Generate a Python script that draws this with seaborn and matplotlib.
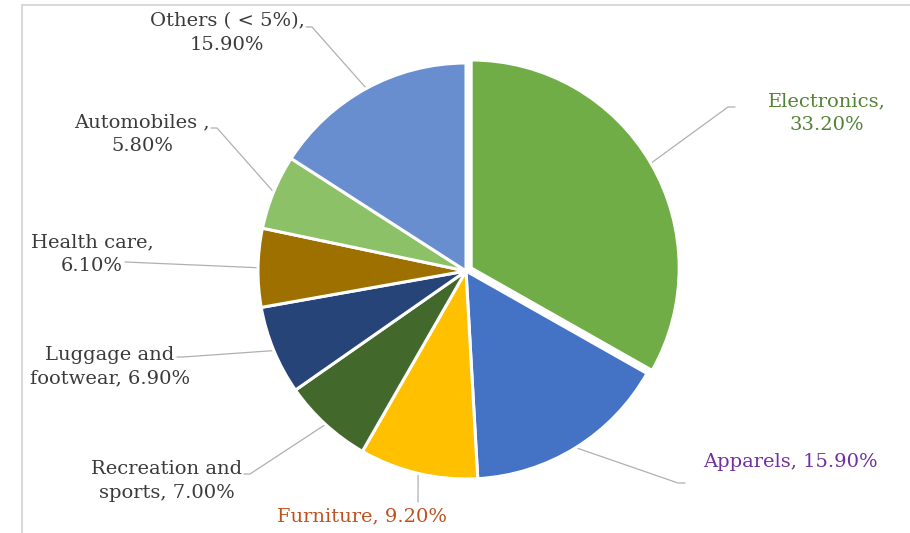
import numpy as np
import matplotlib
matplotlib.use('Agg')
import matplotlib.pyplot as plt
import seaborn as sns

# data
categories = ['Electronics', 'Apparels', 'Furniture', 'Recreation and sports',
              'Luggage and footwear', 'Health care', 'Automobiles', 'Others ( < 5%)']
shares = [33.2, 15.9, 9.2, 7.0, 6.9, 6.1, 5.8, 15.9]

# label text as it appears on the chart
label_text = ['Electronics,\n{:.2f}%', 'Apparels, {:.2f}%', 'Furniture, {:.2f}%',
              'Recreation and\nsports, {:.2f}%', 'Luggage and\nfootwear, {:.2f}%',
              'Health care,\n{:.2f}%', 'Automobiles ,\n{:.2f}%', 'Others ( < 5%),\n{:.2f}%']

colors = ['#70ad47', '#4472c4', '#ffc000', '#43682b', '#264478', '#9e7000', '#8cc168', '#698ed0']
text_colors = ['#548235', '#7030a0', '#c0501f', '#3a3a3a', '#3a3a3a', '#3a3a3a', '#3a3a3a', '#3a3a3a']

W, H = 910, 533
# label centres and leader line start points (image pixels)
text_pos = [(827, 113), (790, 462), (362, 516), (167, 481), (110, 367), (92, 254), (142, 134), (227, 33)]
leader_start = [[(735, 107), (728, 107)], [(685, 483), (678, 483)], [(418, 502)],
                [(244, 474), (250, 474)], [(177, 357), (183, 357)], [(125, 262)],
                [(211, 128), (217, 128)], [(306, 27), (312, 27)]]

sns.set_theme(style='white')
plt.rcParams['font.family'] = ['DejaVu Serif']

fig = plt.figure(figsize=(W / 100, H / 100), dpi=100)
ax = fig.add_axes([0, 0, 1, 1])

explode = [6 if c == 'Electronics' else 0 for c in categories]
wedges, _ = ax.pie(shares, colors=colors, startangle=90, counterclock=False,
                   radius=208, center=(466, H - 271), explode=explode,
                   wedgeprops=dict(edgecolor='white', linewidth=2.2))

ax.set_xlim(0, W)
ax.set_ylim(0, H)
ax.set_aspect('equal')
ax.axis('off')

for i, w in enumerate(wedges):
    mid = np.deg2rad((w.theta1 + w.theta2) / 2)
    cx, cy = w.center
    ex = cx + w.r * np.cos(mid)
    ey = cy + w.r * np.sin(mid)
    pts = [(x, H - y) for x, y in leader_start[i]] + [(ex, ey)]
    ax.plot([p[0] for p in pts], [p[1] for p in pts], color='#b0b0b0', lw=0.9, zorder=0)
    tx, ty = text_pos[i]
    ax.text(tx, H - ty, label_text[i].format(shares[i]), ha='center', va='center',
            fontsize=14, color=text_colors[i], linespacing=1.38)

# chart frame
ax.plot([22, W], [H - 5, H - 5], color='#d9d9d9', lw=1.5, clip_on=False)
ax.plot([22, 22], [H - 5, 0], color='#d9d9d9', lw=1.5, clip_on=False)

fig.savefig('out.png', dpi=100)
